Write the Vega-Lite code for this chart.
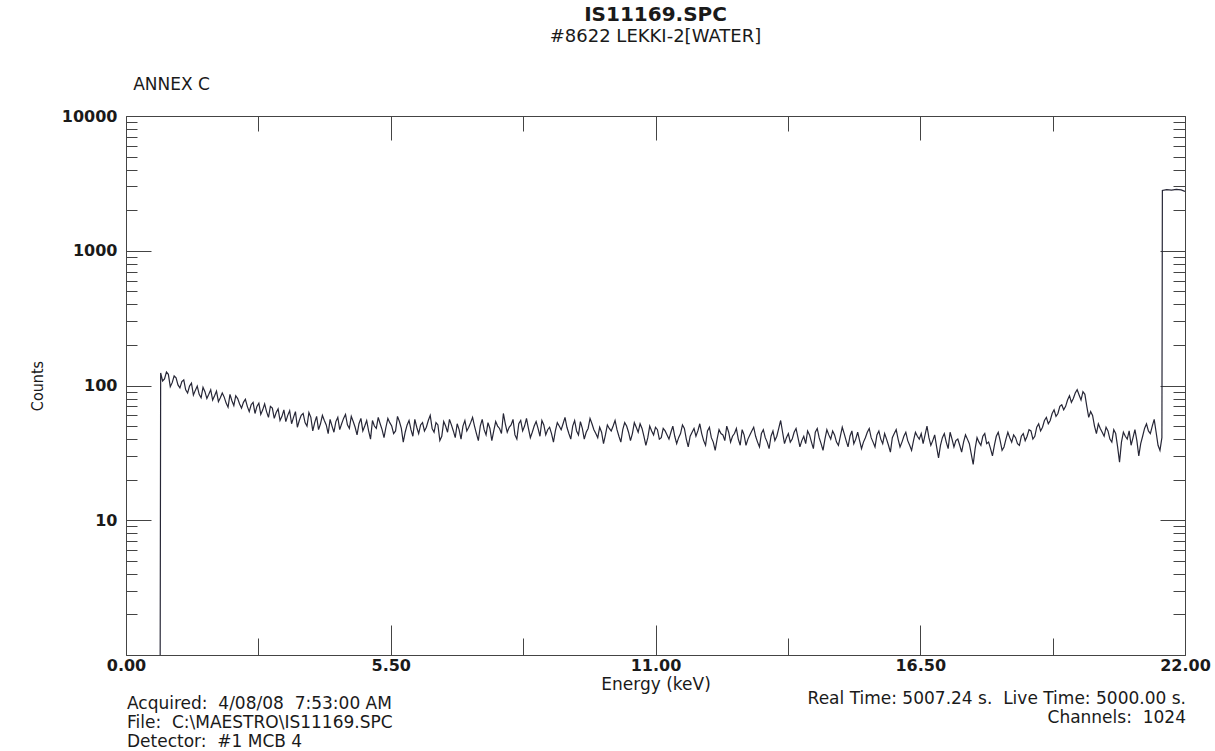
{
  "$schema": "https://vega.github.io/schema/vega-lite/v6.json",
  "width": 1059,
  "height": 539,
  "autosize": "none",
  "padding": {"left": 126, "top": 116, "right": 30, "bottom": 96},
  "background": "white",
  "title": {
    "text": "IS11169.SPC",
    "subtitle": "#8622 LEKKI-2[WATER]",
    "anchor": "middle",
    "font": "DejaVu Sans",
    "fontSize": 20,
    "fontWeight": "bold",
    "color": "#1a1a1a",
    "subtitleFont": "DejaVu Sans",
    "subtitleFontSize": 18,
    "subtitleColor": "#1a1a1a",
    "subtitlePadding": 3,
    "offset": 30
  },
  "datasets": {
    "spectrum": [
      {"energy": 0.71, "counts": 1},
      {"energy": 0.72, "counts": 124}, {"energy": 0.76, "counts": 108}, {"energy": 0.80, "counts": 112}, {"energy": 0.84, "counts": 126},
      {"energy": 0.88, "counts": 121}, {"energy": 0.92, "counts": 98}, {"energy": 0.96, "counts": 105}, {"energy": 1.00, "counts": 118},
      {"energy": 1.04, "counts": 114}, {"energy": 1.08, "counts": 101}, {"energy": 1.12, "counts": 96}, {"energy": 1.16, "counts": 107},
      {"energy": 1.20, "counts": 110}, {"energy": 1.24, "counts": 93}, {"energy": 1.28, "counts": 88}, {"energy": 1.32, "counts": 99},
      {"energy": 1.36, "counts": 104}, {"energy": 1.40, "counts": 85}, {"energy": 1.44, "counts": 92}, {"energy": 1.48, "counts": 99},
      {"energy": 1.52, "counts": 86}, {"energy": 1.56, "counts": 81}, {"energy": 1.60, "counts": 97}, {"energy": 1.64, "counts": 90},
      {"energy": 1.68, "counts": 80}, {"energy": 1.72, "counts": 86}, {"energy": 1.76, "counts": 93}, {"energy": 1.80, "counts": 78},
      {"energy": 1.84, "counts": 84}, {"energy": 1.88, "counts": 91}, {"energy": 1.92, "counts": 76}, {"energy": 1.96, "counts": 81},
      {"energy": 2.00, "counts": 88}, {"energy": 2.04, "counts": 82}, {"energy": 2.08, "counts": 74}, {"energy": 2.12, "counts": 69},
      {"energy": 2.16, "counts": 86}, {"energy": 2.20, "counts": 77}, {"energy": 2.24, "counts": 71}, {"energy": 2.28, "counts": 84},
      {"energy": 2.32, "counts": 80}, {"energy": 2.36, "counts": 73}, {"energy": 2.40, "counts": 68}, {"energy": 2.44, "counts": 75},
      {"energy": 2.48, "counts": 79}, {"energy": 2.52, "counts": 70}, {"energy": 2.56, "counts": 64}, {"energy": 2.60, "counts": 72},
      {"energy": 2.64, "counts": 75}, {"energy": 2.68, "counts": 62}, {"energy": 2.72, "counts": 70}, {"energy": 2.76, "counts": 74},
      {"energy": 2.80, "counts": 61}, {"energy": 2.84, "counts": 66}, {"energy": 2.88, "counts": 73}, {"energy": 2.92, "counts": 64},
      {"energy": 2.96, "counts": 58}, {"energy": 3.00, "counts": 70}, {"energy": 3.04, "counts": 68}, {"energy": 3.08, "counts": 57},
      {"energy": 3.12, "counts": 63}, {"energy": 3.16, "counts": 67}, {"energy": 3.20, "counts": 55}, {"energy": 3.24, "counts": 59},
      {"energy": 3.28, "counts": 66}, {"energy": 3.32, "counts": 54}, {"energy": 3.36, "counts": 60}, {"energy": 3.40, "counts": 65},
      {"energy": 3.44, "counts": 52}, {"energy": 3.48, "counts": 58}, {"energy": 3.52, "counts": 64}, {"energy": 3.56, "counts": 49},
      {"energy": 3.60, "counts": 55}, {"energy": 3.64, "counts": 60}, {"energy": 3.68, "counts": 62}, {"energy": 3.72, "counts": 53},
      {"energy": 3.76, "counts": 50}, {"energy": 3.80, "counts": 63}, {"energy": 3.84, "counts": 58}, {"energy": 3.88, "counts": 46},
      {"energy": 3.92, "counts": 53}, {"energy": 3.96, "counts": 59}, {"energy": 4.00, "counts": 47}, {"energy": 4.04, "counts": 52},
      {"energy": 4.08, "counts": 60}, {"energy": 4.12, "counts": 55}, {"energy": 4.16, "counts": 51}, {"energy": 4.20, "counts": 44},
      {"energy": 4.24, "counts": 56}, {"energy": 4.28, "counts": 50}, {"energy": 4.32, "counts": 45}, {"energy": 4.36, "counts": 54},
      {"energy": 4.40, "counts": 58}, {"energy": 4.44, "counts": 47}, {"energy": 4.48, "counts": 52}, {"energy": 4.52, "counts": 57},
      {"energy": 4.56, "counts": 61}, {"energy": 4.60, "counts": 51}, {"energy": 4.64, "counts": 48}, {"energy": 4.68, "counts": 59},
      {"energy": 4.72, "counts": 54}, {"energy": 4.76, "counts": 49}, {"energy": 4.80, "counts": 43}, {"energy": 4.84, "counts": 52},
      {"energy": 4.88, "counts": 57}, {"energy": 4.92, "counts": 46}, {"energy": 4.96, "counts": 50}, {"energy": 5.00, "counts": 55},
      {"energy": 5.04, "counts": 46}, {"energy": 5.08, "counts": 40}, {"energy": 5.12, "counts": 55}, {"energy": 5.16, "counts": 50},
      {"energy": 5.20, "counts": 48}, {"energy": 5.24, "counts": 58}, {"energy": 5.28, "counts": 52}, {"energy": 5.32, "counts": 47},
      {"energy": 5.36, "counts": 41}, {"energy": 5.40, "counts": 49}, {"energy": 5.44, "counts": 57}, {"energy": 5.48, "counts": 53},
      {"energy": 5.52, "counts": 50}, {"energy": 5.56, "counts": 44}, {"energy": 5.60, "counts": 46}, {"energy": 5.64, "counts": 59},
      {"energy": 5.68, "counts": 54}, {"energy": 5.72, "counts": 48}, {"energy": 5.76, "counts": 38}, {"energy": 5.80, "counts": 45},
      {"energy": 5.84, "counts": 51}, {"energy": 5.88, "counts": 55}, {"energy": 5.92, "counts": 47}, {"energy": 5.96, "counts": 42},
      {"energy": 6.00, "counts": 56}, {"energy": 6.04, "counts": 49}, {"energy": 6.08, "counts": 44}, {"energy": 6.12, "counts": 51},
      {"energy": 6.16, "counts": 53}, {"energy": 6.20, "counts": 46}, {"energy": 6.24, "counts": 49}, {"energy": 6.28, "counts": 55},
      {"energy": 6.32, "counts": 60}, {"energy": 6.36, "counts": 48}, {"energy": 6.40, "counts": 45}, {"energy": 6.44, "counts": 53},
      {"energy": 6.48, "counts": 51}, {"energy": 6.52, "counts": 39}, {"energy": 6.56, "counts": 42}, {"energy": 6.60, "counts": 54},
      {"energy": 6.64, "counts": 50}, {"energy": 6.68, "counts": 45}, {"energy": 6.72, "counts": 56}, {"energy": 6.76, "counts": 51},
      {"energy": 6.80, "counts": 46}, {"energy": 6.84, "counts": 41}, {"energy": 6.88, "counts": 52}, {"energy": 6.92, "counts": 47},
      {"energy": 6.96, "counts": 40}, {"energy": 7.00, "counts": 50}, {"energy": 7.04, "counts": 55}, {"energy": 7.08, "counts": 46},
      {"energy": 7.12, "counts": 49}, {"energy": 7.16, "counts": 53}, {"energy": 7.20, "counts": 58}, {"energy": 7.24, "counts": 50},
      {"energy": 7.28, "counts": 44}, {"energy": 7.32, "counts": 39}, {"energy": 7.36, "counts": 50}, {"energy": 7.40, "counts": 56},
      {"energy": 7.44, "counts": 47}, {"energy": 7.48, "counts": 43}, {"energy": 7.52, "counts": 53}, {"energy": 7.56, "counts": 48},
      {"energy": 7.60, "counts": 39}, {"energy": 7.64, "counts": 46}, {"energy": 7.68, "counts": 54}, {"energy": 7.72, "counts": 50},
      {"energy": 7.76, "counts": 48}, {"energy": 7.80, "counts": 44}, {"energy": 7.84, "counts": 62}, {"energy": 7.88, "counts": 52},
      {"energy": 7.92, "counts": 45}, {"energy": 7.96, "counts": 49}, {"energy": 8.00, "counts": 51}, {"energy": 8.04, "counts": 56},
      {"energy": 8.08, "counts": 43}, {"energy": 8.12, "counts": 40}, {"energy": 8.16, "counts": 52}, {"energy": 8.20, "counts": 55},
      {"energy": 8.24, "counts": 46}, {"energy": 8.28, "counts": 50}, {"energy": 8.32, "counts": 57}, {"energy": 8.36, "counts": 48},
      {"energy": 8.40, "counts": 41}, {"energy": 8.44, "counts": 45}, {"energy": 8.48, "counts": 50}, {"energy": 8.52, "counts": 54},
      {"energy": 8.56, "counts": 48}, {"energy": 8.60, "counts": 42}, {"energy": 8.64, "counts": 55}, {"energy": 8.68, "counts": 51},
      {"energy": 8.72, "counts": 43}, {"energy": 8.76, "counts": 47}, {"energy": 8.80, "counts": 49}, {"energy": 8.84, "counts": 44},
      {"energy": 8.88, "counts": 38}, {"energy": 8.92, "counts": 46}, {"energy": 8.96, "counts": 53}, {"energy": 9.00, "counts": 50},
      {"energy": 9.04, "counts": 47}, {"energy": 9.08, "counts": 52}, {"energy": 9.12, "counts": 58}, {"energy": 9.16, "counts": 49},
      {"energy": 9.20, "counts": 44}, {"energy": 9.24, "counts": 40}, {"energy": 9.28, "counts": 50}, {"energy": 9.32, "counts": 55},
      {"energy": 9.36, "counts": 46}, {"energy": 9.40, "counts": 43}, {"energy": 9.44, "counts": 54}, {"energy": 9.48, "counts": 48},
      {"energy": 9.52, "counts": 40}, {"energy": 9.56, "counts": 45}, {"energy": 9.60, "counts": 48}, {"energy": 9.64, "counts": 57},
      {"energy": 9.68, "counts": 52}, {"energy": 9.72, "counts": 47}, {"energy": 9.76, "counts": 44}, {"energy": 9.80, "counts": 41},
      {"energy": 9.84, "counts": 49}, {"energy": 9.88, "counts": 45}, {"energy": 9.92, "counts": 37}, {"energy": 9.96, "counts": 43},
      {"energy": 10.00, "counts": 51}, {"energy": 10.04, "counts": 48}, {"energy": 10.08, "counts": 46}, {"energy": 10.12, "counts": 50},
      {"energy": 10.16, "counts": 55}, {"energy": 10.20, "counts": 47}, {"energy": 10.24, "counts": 42}, {"energy": 10.28, "counts": 38},
      {"energy": 10.32, "counts": 47}, {"energy": 10.36, "counts": 53}, {"energy": 10.40, "counts": 50}, {"energy": 10.44, "counts": 45},
      {"energy": 10.48, "counts": 39}, {"energy": 10.52, "counts": 44}, {"energy": 10.56, "counts": 53}, {"energy": 10.60, "counts": 49},
      {"energy": 10.64, "counts": 45}, {"energy": 10.68, "counts": 52}, {"energy": 10.72, "counts": 48}, {"energy": 10.76, "counts": 42},
      {"energy": 10.80, "counts": 36}, {"energy": 10.84, "counts": 41}, {"energy": 10.88, "counts": 50}, {"energy": 10.92, "counts": 46},
      {"energy": 10.96, "counts": 43}, {"energy": 11.00, "counts": 49}, {"energy": 11.04, "counts": 47}, {"energy": 11.08, "counts": 40},
      {"energy": 11.12, "counts": 41}, {"energy": 11.16, "counts": 48}, {"energy": 11.20, "counts": 46}, {"energy": 11.24, "counts": 43},
      {"energy": 11.28, "counts": 40}, {"energy": 11.32, "counts": 45}, {"energy": 11.36, "counts": 50}, {"energy": 11.40, "counts": 42},
      {"energy": 11.44, "counts": 37}, {"energy": 11.48, "counts": 41}, {"energy": 11.52, "counts": 44}, {"energy": 11.56, "counts": 51},
      {"energy": 11.60, "counts": 48}, {"energy": 11.64, "counts": 40}, {"energy": 11.68, "counts": 35}, {"energy": 11.72, "counts": 42},
      {"energy": 11.76, "counts": 45}, {"energy": 11.80, "counts": 48}, {"energy": 11.84, "counts": 42}, {"energy": 11.88, "counts": 46},
      {"energy": 11.92, "counts": 52}, {"energy": 11.96, "counts": 44}, {"energy": 12.00, "counts": 39}, {"energy": 12.04, "counts": 36},
      {"energy": 12.08, "counts": 46}, {"energy": 12.12, "counts": 49}, {"energy": 12.16, "counts": 41}, {"energy": 12.20, "counts": 38},
      {"energy": 12.24, "counts": 33}, {"energy": 12.28, "counts": 40}, {"energy": 12.32, "counts": 47}, {"energy": 12.36, "counts": 44},
      {"energy": 12.40, "counts": 43}, {"energy": 12.44, "counts": 39}, {"energy": 12.48, "counts": 50}, {"energy": 12.52, "counts": 45},
      {"energy": 12.56, "counts": 38}, {"energy": 12.60, "counts": 42}, {"energy": 12.64, "counts": 44}, {"energy": 12.68, "counts": 48},
      {"energy": 12.72, "counts": 40}, {"energy": 12.76, "counts": 36}, {"energy": 12.80, "counts": 47}, {"energy": 12.84, "counts": 43},
      {"energy": 12.88, "counts": 36}, {"energy": 12.92, "counts": 40}, {"energy": 12.96, "counts": 43}, {"energy": 13.00, "counts": 46},
      {"energy": 13.04, "counts": 49}, {"energy": 13.08, "counts": 42}, {"energy": 13.12, "counts": 38}, {"energy": 13.16, "counts": 35},
      {"energy": 13.20, "counts": 44}, {"energy": 13.24, "counts": 47}, {"energy": 13.28, "counts": 41}, {"energy": 13.32, "counts": 38},
      {"energy": 13.36, "counts": 34}, {"energy": 13.40, "counts": 42}, {"energy": 13.44, "counts": 46}, {"energy": 13.48, "counts": 39},
      {"energy": 13.52, "counts": 42}, {"energy": 13.56, "counts": 48}, {"energy": 13.60, "counts": 55}, {"energy": 13.64, "counts": 45},
      {"energy": 13.68, "counts": 37}, {"energy": 13.72, "counts": 41}, {"energy": 13.76, "counts": 44}, {"energy": 13.80, "counts": 38},
      {"energy": 13.84, "counts": 40}, {"energy": 13.88, "counts": 45}, {"energy": 13.92, "counts": 48}, {"energy": 13.96, "counts": 41},
      {"energy": 14.00, "counts": 35}, {"energy": 14.04, "counts": 39}, {"energy": 14.08, "counts": 42}, {"energy": 14.12, "counts": 37},
      {"energy": 14.16, "counts": 46}, {"energy": 14.20, "counts": 43}, {"energy": 14.24, "counts": 38}, {"energy": 14.28, "counts": 34},
      {"energy": 14.32, "counts": 45}, {"energy": 14.36, "counts": 48}, {"energy": 14.40, "counts": 41}, {"energy": 14.44, "counts": 37},
      {"energy": 14.48, "counts": 33}, {"energy": 14.52, "counts": 40}, {"energy": 14.56, "counts": 47}, {"energy": 14.60, "counts": 43},
      {"energy": 14.64, "counts": 40}, {"energy": 14.68, "counts": 46}, {"energy": 14.72, "counts": 43}, {"energy": 14.76, "counts": 38},
      {"energy": 14.80, "counts": 36}, {"energy": 14.84, "counts": 42}, {"energy": 14.88, "counts": 49}, {"energy": 14.92, "counts": 44},
      {"energy": 14.96, "counts": 39}, {"energy": 15.00, "counts": 35}, {"energy": 15.04, "counts": 42}, {"energy": 15.08, "counts": 46},
      {"energy": 15.12, "counts": 37}, {"energy": 15.16, "counts": 40}, {"energy": 15.20, "counts": 45}, {"energy": 15.24, "counts": 39},
      {"energy": 15.28, "counts": 34}, {"energy": 15.32, "counts": 38}, {"energy": 15.36, "counts": 41}, {"energy": 15.40, "counts": 45},
      {"energy": 15.44, "counts": 48}, {"energy": 15.48, "counts": 41}, {"energy": 15.52, "counts": 38}, {"energy": 15.56, "counts": 35},
      {"energy": 15.60, "counts": 43}, {"energy": 15.64, "counts": 46}, {"energy": 15.68, "counts": 40}, {"energy": 15.72, "counts": 37},
      {"energy": 15.76, "counts": 44}, {"energy": 15.80, "counts": 40}, {"energy": 15.84, "counts": 36}, {"energy": 15.88, "counts": 32},
      {"energy": 15.92, "counts": 41}, {"energy": 15.96, "counts": 44}, {"energy": 16.00, "counts": 47}, {"energy": 16.04, "counts": 40},
      {"energy": 16.08, "counts": 35}, {"energy": 16.12, "counts": 38}, {"energy": 16.16, "counts": 42}, {"energy": 16.20, "counts": 45},
      {"energy": 16.24, "counts": 39}, {"energy": 16.28, "counts": 36}, {"energy": 16.32, "counts": 33}, {"energy": 16.36, "counts": 39},
      {"energy": 16.40, "counts": 45}, {"energy": 16.44, "counts": 42}, {"energy": 16.48, "counts": 40}, {"energy": 16.52, "counts": 44},
      {"energy": 16.56, "counts": 37}, {"energy": 16.60, "counts": 43}, {"energy": 16.64, "counts": 50}, {"energy": 16.68, "counts": 41},
      {"energy": 16.72, "counts": 36}, {"energy": 16.76, "counts": 39}, {"energy": 16.80, "counts": 43}, {"energy": 16.84, "counts": 35},
      {"energy": 16.88, "counts": 29}, {"energy": 16.92, "counts": 36}, {"energy": 16.96, "counts": 41}, {"energy": 17.00, "counts": 44},
      {"energy": 17.04, "counts": 38}, {"energy": 17.08, "counts": 34}, {"energy": 17.12, "counts": 45}, {"energy": 17.16, "counts": 40},
      {"energy": 17.20, "counts": 35}, {"energy": 17.24, "counts": 39}, {"energy": 17.28, "counts": 40}, {"energy": 17.32, "counts": 36},
      {"energy": 17.36, "counts": 32}, {"energy": 17.40, "counts": 38}, {"energy": 17.44, "counts": 43}, {"energy": 17.48, "counts": 40},
      {"energy": 17.52, "counts": 37}, {"energy": 17.56, "counts": 31}, {"energy": 17.60, "counts": 26}, {"energy": 17.64, "counts": 34},
      {"energy": 17.68, "counts": 41}, {"energy": 17.72, "counts": 38}, {"energy": 17.76, "counts": 36}, {"energy": 17.80, "counts": 42},
      {"energy": 17.84, "counts": 44}, {"energy": 17.88, "counts": 37}, {"energy": 17.92, "counts": 38}, {"energy": 17.96, "counts": 34},
      {"energy": 18.00, "counts": 30}, {"energy": 18.04, "counts": 36}, {"energy": 18.08, "counts": 42}, {"energy": 18.12, "counts": 45},
      {"energy": 18.16, "counts": 39}, {"energy": 18.20, "counts": 33}, {"energy": 18.24, "counts": 35}, {"energy": 18.28, "counts": 40},
      {"energy": 18.32, "counts": 45}, {"energy": 18.36, "counts": 41}, {"energy": 18.40, "counts": 38}, {"energy": 18.44, "counts": 43},
      {"energy": 18.48, "counts": 41}, {"energy": 18.52, "counts": 37}, {"energy": 18.56, "counts": 36}, {"energy": 18.60, "counts": 42},
      {"energy": 18.64, "counts": 44}, {"energy": 18.68, "counts": 39}, {"energy": 18.72, "counts": 42}, {"energy": 18.76, "counts": 47},
      {"energy": 18.80, "counts": 46}, {"energy": 18.84, "counts": 40}, {"energy": 18.88, "counts": 42}, {"energy": 18.92, "counts": 49},
      {"energy": 18.96, "counts": 52}, {"energy": 19.00, "counts": 46}, {"energy": 19.04, "counts": 49}, {"energy": 19.08, "counts": 55},
      {"energy": 19.12, "counts": 58}, {"energy": 19.16, "counts": 52}, {"energy": 19.20, "counts": 55}, {"energy": 19.24, "counts": 62},
      {"energy": 19.28, "counts": 66}, {"energy": 19.32, "counts": 59}, {"energy": 19.36, "counts": 62}, {"energy": 19.40, "counts": 70},
      {"energy": 19.44, "counts": 72}, {"energy": 19.48, "counts": 66}, {"energy": 19.52, "counts": 70}, {"energy": 19.56, "counts": 78},
      {"energy": 19.60, "counts": 84}, {"energy": 19.64, "counts": 75}, {"energy": 19.68, "counts": 80}, {"energy": 19.72, "counts": 88},
      {"energy": 19.76, "counts": 93}, {"energy": 19.80, "counts": 85}, {"energy": 19.84, "counts": 78}, {"energy": 19.88, "counts": 90},
      {"energy": 19.92, "counts": 86}, {"energy": 19.96, "counts": 70}, {"energy": 20.00, "counts": 58}, {"energy": 20.04, "counts": 64},
      {"energy": 20.08, "counts": 60}, {"energy": 20.12, "counts": 50}, {"energy": 20.16, "counts": 44}, {"energy": 20.20, "counts": 52},
      {"energy": 20.24, "counts": 48}, {"energy": 20.28, "counts": 45}, {"energy": 20.32, "counts": 42}, {"energy": 20.36, "counts": 49},
      {"energy": 20.40, "counts": 46}, {"energy": 20.44, "counts": 40}, {"energy": 20.48, "counts": 38}, {"energy": 20.52, "counts": 47},
      {"energy": 20.56, "counts": 44}, {"energy": 20.60, "counts": 35}, {"energy": 20.64, "counts": 27}, {"energy": 20.68, "counts": 38},
      {"energy": 20.72, "counts": 45}, {"energy": 20.76, "counts": 42}, {"energy": 20.80, "counts": 40}, {"energy": 20.84, "counts": 46},
      {"energy": 20.88, "counts": 36}, {"energy": 20.92, "counts": 41}, {"energy": 20.96, "counts": 47}, {"energy": 21.00, "counts": 39},
      {"energy": 21.04, "counts": 30}, {"energy": 21.08, "counts": 37}, {"energy": 21.12, "counts": 42}, {"energy": 21.16, "counts": 48},
      {"energy": 21.20, "counts": 52}, {"energy": 21.24, "counts": 46}, {"energy": 21.28, "counts": 44}, {"energy": 21.32, "counts": 50},
      {"energy": 21.36, "counts": 56}, {"energy": 21.40, "counts": 45}, {"energy": 21.44, "counts": 36}, {"energy": 21.48, "counts": 33},
      {"energy": 21.52, "counts": 41}, {"energy": 21.53, "counts": 2800}, {"energy": 21.62, "counts": 2840}, {"energy": 21.72, "counts": 2820},
      {"energy": 21.82, "counts": 2850}, {"energy": 21.92, "counts": 2830}, {"energy": 22.00, "counts": 2760}
    ],
    "notes": [
      {"annex": "ANNEX C",
       "left": "Acquired:\u00a0 4/08/08\u00a0 7:53:00 AM\nFile:\u00a0 C:\\MAESTRO\\IS11169.SPC\nDetector:\u00a0 #1 MCB 4",
       "right": "Real Time: 5007.24 s.\u00a0 Live Time: 5000.00 s.\nChannels:\u00a0 1024"}
    ]
  },
  "layer": [
    {
      "data": {"name": "spectrum"},
      "mark": {"type": "line", "color": "#262636", "strokeWidth": 1.2, "clip": true},
      "encoding": {
        "x": {
          "field": "energy", "type": "quantitative",
          "scale": {"domain": [0, 22], "nice": false, "zero": false},
          "axis": {
            "orient": "bottom",
            "values": [0, 2.75, 5.5, 8.25, 11, 13.75, 16.5, 19.25, 22],
            "title": "Energy (keV)",
            "titleFontSize": 17,
            "labelExpr": "datum.value % 5.5 == 0 ? format(datum.value, '.2f') : ''",
            "tickSize": {"condition": {"test": "datum.value % 5.5 == 0", "value": -30}, "value": -17},
            "labelPadding": 32,
            "titlePadding": -10
          }
        },
        "y": {
          "field": "counts", "type": "quantitative",
          "scale": {"type": "log", "domain": [1, 10000], "nice": false},
          "axis": {
            "orient": "left",
            "values": [1,2,3,4,5,6,7,8,9,10,20,30,40,50,60,70,80,90,100,200,300,400,500,600,700,800,900,1000,2000,3000,4000,5000,6000,7000,8000,9000,10000],
            "title": "Counts",
            "titleFont": "DejaVu Sans Condensed, Liberation Sans, sans-serif",
            "titleFontSize": 16,
            "titleFontWeight": "normal",
            "titlePadding": 16,
            "labelExpr": "indexof([10,100,1000,10000], datum.value) >= 0 ? format(datum.value, 'd') : ''",
            "tickSize": {"condition": {"test": "indexof([1,10,100,1000,10000], datum.value) >= 0", "value": -25}, "value": -11},
            "labelPadding": 34
          }
        }
      }
    },
    {
      "data": {"name": "spectrum"},
      "mark": {"type": "line", "opacity": 0},
      "encoding": {
        "x": {
          "field": "energy", "type": "quantitative",
          "axis": {
            "orient": "top",
            "values": [0, 2.75, 5.5, 8.25, 11, 13.75, 16.5, 19.25, 22],
            "labels": false,
            "title": null,
            "tickSize": {"condition": {"test": "datum.value % 5.5 == 0", "value": -24}, "value": -15}
          }
        },
        "y": {
          "field": "counts", "type": "quantitative",
          "axis": {
            "orient": "right",
            "values": [1,2,3,4,5,6,7,8,9,10,20,30,40,50,60,70,80,90,100,200,300,400,500,600,700,800,900,1000,2000,3000,4000,5000,6000,7000,8000,9000,10000],
            "labels": false,
            "title": null,
            "tickSize": {"condition": {"test": "indexof([1,10,100,1000,10000], datum.value) >= 0", "value": -25}, "value": -12}
          }
        }
      }
    },
    {
      "data": {"name": "notes"},
      "mark": {"type": "text", "align": "left", "baseline": "middle", "font": "DejaVu Sans", "fontSize": 17, "color": "#1a1a1a"},
      "encoding": {
        "x": {"datum": 0.15, "type": "quantitative", "axis": null},
        "y": {"datum": 17000, "type": "quantitative", "axis": null},
        "text": {"field": "annex"}
      }
    },
    {
      "data": {"name": "notes"},
      "mark": {"type": "text", "align": "left", "baseline": "top", "font": "DejaVu Sans", "fontSize": 17, "lineHeight": 19, "lineBreak": "\n", "color": "#1a1a1a"},
      "encoding": {
        "x": {"datum": 0.02, "type": "quantitative", "axis": null},
        "y": {"datum": 0.5, "type": "quantitative", "axis": null},
        "text": {"field": "left"}
      }
    },
    {
      "data": {"name": "notes"},
      "mark": {"type": "text", "align": "right", "baseline": "top", "font": "DejaVu Sans", "fontSize": 17, "lineHeight": 19, "lineBreak": "\n", "color": "#1a1a1a"},
      "encoding": {
        "x": {"datum": 22.02, "type": "quantitative", "axis": null},
        "y": {"datum": 0.54, "type": "quantitative", "axis": null},
        "text": {"field": "right"}
      }
    }
  ],
  "resolve": {"axis": {"x": "independent", "y": "independent"}},
  "config": {
    "view": {"stroke": null},
    "axis": {
      "grid": false,
      "domainColor": "#444444",
      "domainWidth": 1,
      "tickColor": "#444444",
      "tickWidth": 1,
      "labelFont": "DejaVu Sans",
      "labelFontSize": 16,
      "labelFontWeight": "bold",
      "labelColor": "#1a1a1a",
      "labelFlush": false,
      "labelOverlap": false,
      "labelBound": false,
      "titleFont": "DejaVu Sans",
      "titleFontSize": 17,
      "titleFontWeight": "normal",
      "titleColor": "#1a1a1a"
    }
  }
}
